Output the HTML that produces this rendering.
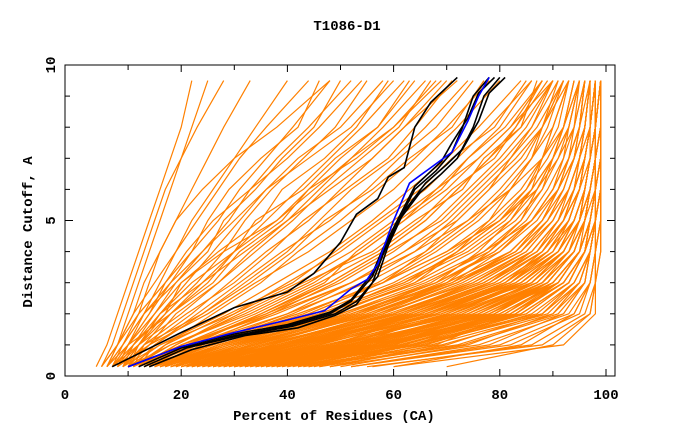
<!DOCTYPE html>
<html><head><meta charset="utf-8"><style>
html,body{margin:0;padding:0;background:#fff;}
svg{display:block;}
text{font-family:"Liberation Mono",monospace;font-weight:bold;fill:#000;}
</style></head><body>
<svg id="chart" width="680" height="440" viewBox="0 0 680 440">
<rect x="0" y="0" width="680" height="440" fill="#fff"/>
<text x="347" y="30" font-size="14" text-anchor="middle">T1086-D1</text>
<g id="series"></g>
<g id="axes"></g>
<text x="334" y="420" font-size="14" text-anchor="middle">Percent of Residues (CA)</text>
<text transform="translate(32,232) rotate(-90)" font-size="14" text-anchor="middle">Distance Cutoff, A</text>
</svg>
<script>
// Distance levels (y) at which each curve's percent (x) is read
const yLevels = [0.3, 1, 2, 3, 4, 5, 6, 7, 8, 9.5];
// Orange model curves: percent of residues at each distance level
const orangeCurves = [
[4,6,8,10,12,14,16,18,20,22],[5,7,9,11,13,15,17,20,22,25],[6,8,10,12,14,16,18,20,23,28],
[6,9,12,14,16,19,22,25,28,33],[7,9,13,16,19,22,26,30,34,40],[5,8,11,15,19,23,27,31,36,44],
[8,10,14,18,22,27,31,36,41,48],[6,9,13,18,24,29,33,38,44,52],[9,12,17,23,28,32,37,43,49,55],
[7,11,16,21,26,31,36,42,50,58],[10,13,18,25,30,36,42,48,54,62],[8,12,20,27,33,40,46,52,58,66],
[9,14,22,29,36,44,50,56,62,70],[11,15,24,32,40,46,52,60,66,74],[12,17,26,35,42,50,57,64,70,78],
[8,14,25,34,44,52,60,66,72,80],[10,16,28,38,48,56,63,70,76,84],[13,19,30,40,50,58,66,72,78,86],
[11,18,33,45,54,62,70,76,82,88],[14,21,36,48,58,66,72,78,84,90],[15,24,40,52,62,70,76,82,87,92],
[7,10,15,20,28,38,45,52,60,68],[6,8,11,13,16,19,24,30,38,48],[8,11,15,19,24,30,36,44,52,60],
[9,12,18,24,32,40,48,56,62,72],[7,10,14,17,21,26,33,40,46,54],[10,12,16,22,30,38,44,50,57,64],
[5,8,12,17,22,25,29,35,42,46],[8,10,13,19,25,28,34,39,45,50],[9,11,17,20,27,35,39,47,53,59],
[7,12,16,24,30,34,43,49,57,63],[10,14,19,27,34,41,47,54,61,67],[11,13,21,30,37,43,51,59,64,71],
[6,10,18,26,31,39,44,53,60,69],[12,15,23,31,39,48,55,61,68,75],[9,13,24,33,41,47,56,63,71,77],
[10,18,32,44,54,62,68,74,80,86],[12,20,36,50,60,68,74,80,85,90],[13,22,38,52,62,72,78,84,88,92],
[9,16,30,42,52,60,68,76,82,90],[14,24,44,58,66,72,78,82,86,90],[16,28,48,64,72,78,82,86,88,92],
[18,30,52,68,76,82,86,88,90,93],[20,34,56,70,78,84,87,90,92,94],
[11,17,29,41,49,57,65,71,79,85],[13,20,34,46,57,65,71,79,83,89],[15,23,37,49,59,69,75,81,86,91],
[12,19,31,43,56,64,73,77,84,87],[14,22,35,47,53,61,69,74,81,88],[16,25,41,54,64,71,77,83,88,93],
[14,24,42,58,70,78,84,88,91,93],[16,27,46,62,74,82,87,90,92,94],[18,30,50,66,78,85,89,92,94,95],
[20,33,54,70,82,88,91,93,95,96],[22,36,58,74,85,90,93,95,96,97],[24,38,60,77,87,92,94,96,97,98],
[26,42,64,80,89,93,95,96,97,98],[28,45,67,83,91,94,96,97,98,98],[30,48,70,85,92,95,96,97,98,99],
[32,50,72,87,93,96,97,98,98,99],[34,53,75,89,94,96,97,98,99,99],[36,56,78,90,95,97,98,98,99,99],
[38,58,80,91,95,97,98,99,99,99],[40,60,82,92,96,97,98,99,99,99],[42,63,84,93,96,98,98,99,99,99],
[45,66,86,94,97,98,99,99,99,99],[48,70,88,95,97,98,99,99,99,99],[50,74,90,96,97,98,99,99,99,99],
[52,78,92,96,97,98,99,99,99,99],[52,82,95,97,98,98,99,99,99,99],[55,88,97,98,98,99,99,99,99,99],
[60,92,98,98,99,99,99,99,99,99],
[12,22,40,55,66,74,80,85,88,91],[15,26,44,58,68,76,82,86,89,92],[17,28,47,63,72,80,85,88,90,93],
[19,31,51,67,77,84,88,90,92,94],[21,34,55,71,80,86,90,92,93,95],[23,37,57,72,83,88,91,93,95,96],
[25,40,62,78,86,91,93,95,96,97],[27,43,65,81,88,92,94,96,97,98],[29,46,68,82,90,93,95,96,97,98],
[31,49,71,84,91,94,96,97,98,98],[33,52,74,86,92,95,96,97,98,99],[35,54,76,88,93,96,97,98,98,99],
[37,57,79,89,94,96,97,98,99,99],[39,59,81,90,95,96,97,98,99,99],[41,62,83,91,95,97,98,98,99,99],
[44,64,85,93,96,97,98,99,99,99],
[15,28,50,68,80,87,91,93,95,96],[17,30,53,71,83,89,92,94,95,96],[19,33,57,75,86,91,94,95,96,97],
[21,36,61,79,88,92,95,96,97,97],[23,39,64,82,90,94,96,97,97,98],[25,42,68,85,92,95,96,97,98,98],
[27,45,71,87,93,95,97,98,98,99],[29,48,74,88,94,96,97,98,99,99],[31,51,77,90,95,97,98,98,99,99],
[33,54,80,91,95,97,98,99,99,99],[35,57,83,92,96,97,98,99,99,99],[37,61,85,93,96,98,98,99,99,99],
[40,65,88,94,97,98,99,99,99,99],[43,69,90,95,97,98,99,99,99,99],[46,73,92,96,97,98,99,99,99,99],
[18,32,55,72,84,90,93,95,96,97],[20,35,60,77,87,92,94,96,97,98],[22,38,63,80,89,93,95,96,97,98],
[24,41,66,83,91,94,96,97,98,98],[26,44,69,86,92,95,96,97,98,99],[28,47,72,87,93,96,97,98,98,99],
[30,50,76,89,94,96,97,98,99,99],[32,53,79,90,95,97,98,98,99,99],[34,56,82,92,96,97,98,99,99,99],
[36,59,84,93,96,98,98,99,99,99],[38,63,87,94,97,98,99,99,99,99],[42,67,89,95,97,98,99,99,99,99],
[11,20,37,52,64,74,82,88,92,95],[13,23,42,58,70,80,87,91,94,96],[16,27,48,65,77,86,91,94,95,97],
[12,21,35,48,58,66,72,78,83,88],[14,25,46,62,72,80,86,90,93,95],[22,40,66,84,92,95,97,98,98,99],
[60,84,94,97,98,99,99,99,99,99],[70,90,97,98,99,99,99,99,99,99],[56,86,96,98,98,99,99,99,99,99],
[16,29,52,70,82,88,92,94,96,97],[18,31,54,69,79,86,90,93,95,96],[20,36,58,73,84,89,92,94,96,97],
[22,37,59,76,86,91,94,95,97,98],[24,40,63,79,88,92,95,96,97,98],[26,43,66,81,89,93,95,97,98,98],
[28,46,69,84,91,94,96,97,98,99],[30,49,73,86,92,95,97,98,98,99],[32,52,75,88,94,96,97,98,99,99],
[34,55,78,89,94,96,98,98,99,99],[36,58,81,91,95,97,98,99,99,99],[39,61,83,92,96,97,98,99,99,99],
[17,29,49,64,75,83,88,91,93,95],[19,32,53,68,79,86,90,93,94,96],[21,35,56,72,82,88,91,94,95,96],
[23,38,60,75,85,90,93,95,96,97],[25,41,63,78,87,91,94,96,97,98],[27,44,66,82,89,93,95,96,97,98],
[14,26,45,60,71,79,85,89,92,95],[13,25,43,57,67,75,81,86,90,93],[15,27,47,61,73,81,86,90,93,95],
[30,52,78,91,95,97,98,99,99,99],[34,58,84,93,96,97,98,99,99,99],[38,64,88,95,97,98,99,99,99,99],
[44,72,91,96,97,98,99,99,99,99],[48,76,93,97,98,98,99,99,99,99],[52,80,94,97,98,99,99,99,99,99],
[20,40,62,78,88,93,95,96,97,98],[24,44,64,80,89,94,96,97,98,98],[28,48,67,82,91,95,96,97,98,99],
[32,52,70,84,92,95,97,98,98,99],[36,56,73,86,93,96,97,98,99,99],[40,60,76,88,94,96,97,98,99,99],
[44,64,79,90,95,97,98,98,99,99],[48,68,82,91,95,97,98,99,99,99],[26,46,68,83,91,95,96,97,98,98],
[30,50,71,85,92,95,97,98,98,99],[34,54,74,87,93,96,97,98,99,99],[38,58,77,89,94,96,97,98,99,99],
[42,62,80,91,95,97,98,99,99,99],[46,66,83,92,96,97,98,99,99,99],[22,42,65,81,90,94,96,97,98,98],
[18,38,60,76,86,91,94,96,97,98],[16,34,56,72,83,89,93,95,96,97],[21,39,61,77,87,92,95,96,97,98]
];
// Black reference curves (x percent, y distance pairs)
const blackX1 = [7,20,30,40,45,50,53,57,59,62,64,67,72];
const blackY1 = [0.3,1.4,2.2,2.7,3.3,4.3,5.2,5.7,6.4,6.7,8,8.8,9.6];
const blackX2 = [12,20,30,40,48,52,56,58,61,64,68,71,73,75,78];
const blackY2 = [0.3,0.9,1.3,1.6,2,2.4,3.2,4,5,6,6.6,7.2,8,9,9.6];
const blackX3 = [14,22,32,42,49,53,56,58,61,65,69,72,75,77,80];
const blackY3 = [0.3,0.85,1.3,1.55,1.95,2.3,3,3.9,5,5.9,6.5,7,8,9,9.6];
const blackX4 = [13,21,31,41,49,53,57,59,62,66,70,73,76,78,81];
const blackY4 = [0.3,0.9,1.3,1.6,2,2.4,3.2,4.2,5.3,6.2,6.8,7.3,8.2,9.1,9.6];
const blackX5 = [10,20,30,40,48,52,56,58,61,64,69,71,74,76,79];
const blackY5 = [0.3,0.95,1.35,1.65,2.05,2.45,3.3,4.1,5.1,6.1,6.9,7.5,8.3,9.1,9.6];
// Blue target curve
const blueX = [10,20,30,40,47,52,55,57,60,63,67,71,74,76,78];
const blueY = [0.3,0.95,1.4,1.8,2.1,2.8,3.1,3.6,5,6.2,6.7,7.2,8.2,9,9.6];
// Tick labels
const xTickLabels = ["0","20","40","60","80","100"];
const xTickVals = [0,20,40,60,80,100];
const yTickLabels = ["0","5","10"];
const yTickVals = [0,5,10];

const NS = "http://www.w3.org/2000/svg";
const L = 65, R = 615, T = 65, B = 376;
function xs(v){ return 75 + v * 5.31; }
function ys(v){ return B - v * 31.1; }
const series = document.getElementById('series');
const axes = document.getElementById('axes');

orangeCurves.forEach(function(c, i){
  const pl = document.createElementNS(NS, 'polyline');
  pl.setAttribute('points', c.map(function(x, j){ return xs(x).toFixed(1) + ',' + ys(yLevels[j]).toFixed(1); }).join(' '));
  pl.setAttribute('fill', 'none');
  pl.setAttribute('stroke', '#ff8000');
  pl.setAttribute('stroke-width', '1.2');
  
  
  series.appendChild(pl);
});
function drawLine(xArr, yArr, color, w, name){
  const pl = document.createElementNS(NS, 'polyline');
  pl.setAttribute('points', xArr.map(function(x, j){ return xs(x).toFixed(1) + ',' + ys(yArr[j]).toFixed(1); }).join(' '));
  pl.setAttribute('fill', 'none');
  pl.setAttribute('stroke', color);
  pl.setAttribute('stroke-width', w);
  
  
  series.appendChild(pl);
}
drawLine(blackX1, blackY1, '#000', 1.6, 'reference-curve-1');
drawLine(blackX2, blackY2, '#000', 1.6, 'reference-curve-2');
drawLine(blackX3, blackY3, '#000', 1.6, 'reference-curve-3');
drawLine(blackX4, blackY4, '#000', 1.6, 'reference-curve-4');
drawLine(blackX5, blackY5, '#000', 1.6, 'reference-curve-5');
drawLine(blueX, blueY, '#0000ff', 1.6, 'target-curve');

const fr = document.createElementNS(NS, 'rect');
fr.setAttribute('x', L); fr.setAttribute('y', T); fr.setAttribute('width', R - L); fr.setAttribute('height', B - T);
fr.setAttribute('fill', 'none'); fr.setAttribute('stroke', '#000'); fr.setAttribute('stroke-width', '1');


axes.appendChild(fr);
function tick(x1, y1, x2, y2){
  const ln = document.createElementNS(NS, 'line');
  ln.setAttribute('x1', x1); ln.setAttribute('y1', y1); ln.setAttribute('x2', x2); ln.setAttribute('y2', y2);
  ln.setAttribute('stroke', '#000'); ln.setAttribute('stroke-width', '1');
  
  
  axes.appendChild(ln);
}
for (let v = 10; v <= 100; v += 10){
  const big = v % 20 === 0 ? 7 : 5;
  tick(xs(v), B, xs(v), B - big);
  tick(xs(v), T, xs(v), T + big);
}
for (let v = 1; v <= 10; v++){
  const big = v % 5 === 0 ? 8 : 5;
  tick(L, ys(v), L + big, ys(v));
  tick(R, ys(v), R - big, ys(v));
}
xTickLabels.forEach(function(lab, i){
  const t = document.createElementNS(NS, 'text');
  t.setAttribute('x', xTickVals[i] === 0 ? 65 : xs(xTickVals[i]));
  t.setAttribute('y', 399);
  t.setAttribute('font-size', '14');
  t.setAttribute('text-anchor', 'middle');
  
  
  t.textContent = lab;
  axes.appendChild(t);
});
yTickLabels.forEach(function(lab, i){
  const t = document.createElementNS(NS, 'text');
  t.setAttribute('transform', 'translate(55,' + ys(yTickVals[i]) + ') rotate(-90)');
  t.setAttribute('font-size', '14');
  t.setAttribute('text-anchor', 'middle');
  
  
  t.textContent = lab;
  axes.appendChild(t);
});
</script>
</body></html>
